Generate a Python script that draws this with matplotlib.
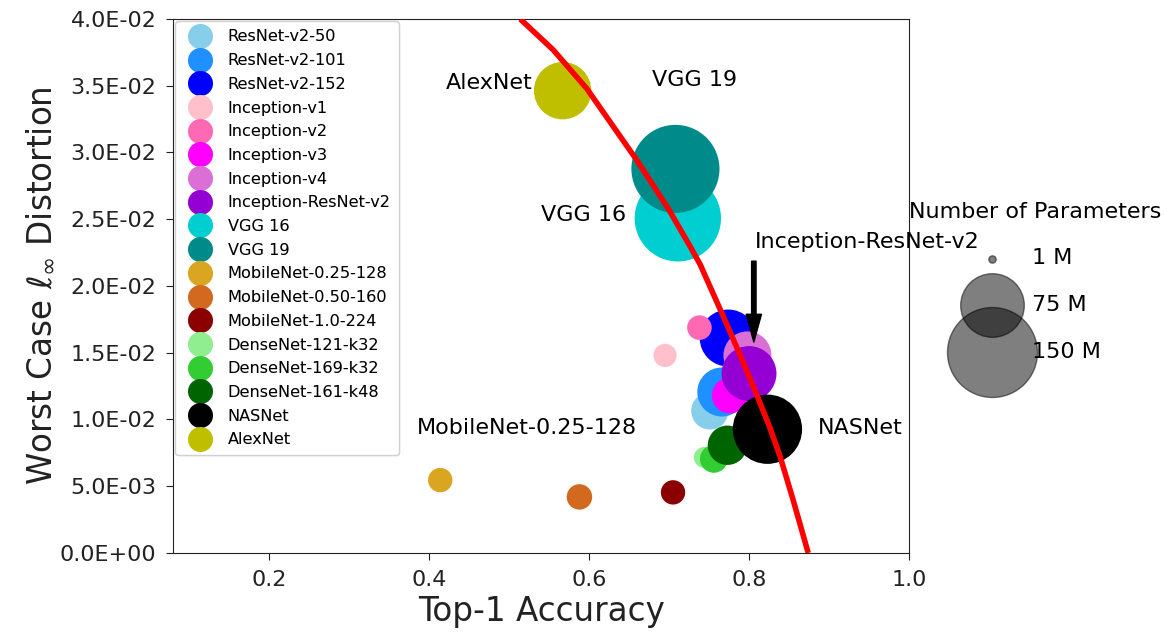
import matplotlib
matplotlib.use("Agg")
import matplotlib.pyplot as plt
from matplotlib.lines import Line2D
from matplotlib.ticker import FuncFormatter

# ---------------- data ----------------
models = ["ResNet-v2-50", "ResNet-v2-101", "ResNet-v2-152", "Inception-v1",
          "Inception-v2", "Inception-v3", "Inception-v4", "Inception-ResNet-v2",
          "VGG 16", "VGG 19", "MobileNet-0.25-128", "MobileNet-0.50-160",
          "MobileNet-1.0-224", "DenseNet-121-k32", "DenseNet-169-k32",
          "DenseNet-161-k48", "NASNet", "AlexNet"]
colors = ["skyblue", "dodgerblue", "blue", "pink", "hotpink", "magenta",
          "orchid", "darkviolet", "darkturquoise", "darkcyan", "goldenrod",
          "chocolate", "darkred", "lightgreen", "limegreen", "darkgreen",
          "black", "#bfbf00"]
accuracy = [0.751, 0.766, 0.774, 0.695, 0.738, 0.776, 0.798, 0.800,
            0.711, 0.708, 0.414, 0.588, 0.705, 0.744, 0.756, 0.773,
            0.823, 0.567]
distortion = [0.01064, 0.01206, 0.0161, 0.0148, 0.01688, 0.0118, 0.0148, 0.01344,
              0.02507, 0.02877, 0.00546, 0.0042, 0.00454, 0.00716, 0.00705, 0.00807,
              0.00927, 0.03463]
# number of parameters (millions) as shown by bubble area
params_m = [25.6, 44.5, 60.2, 10.0, 11.2, 23.8, 42.7, 55.8,
            138.0, 143.7, 11.0, 12.0, 11.0, 8.0, 14.3, 28.7,
            88.9, 61.0]

# red boundary curve
curve_acc = [0.514, 0.555, 0.597, 0.660, 0.700, 0.726, 0.739, 0.768, 0.789,
             0.810, 0.826, 0.839, 0.855, 0.874]
curve_dist = [0.0400, 0.0377, 0.0348, 0.0294, 0.0257, 0.0230, 0.0216, 0.0177,
              0.0148, 0.0118, 0.0094, 0.0072, 0.0040, 0.0]

size_legend_m = [1, 75, 150]
size_legend_labels = ["1 M", "75 M", "150 M"]

x_ticks = [0.2, 0.4, 0.6, 0.8, 1.0]
y_ticks = [0.0, 0.005, 0.01, 0.015, 0.02, 0.025, 0.03, 0.035, 0.04]

# ---------------- style ----------------
SIZE_SCALE = 28.0  # points^2 per million parameters

fig = plt.figure(figsize=(11.74, 6.33), dpi=100)
ax = fig.add_axes([0.1474, 0.1264, 0.6269, 0.8436])

for name, c, x, y, p in zip(models, colors, accuracy, distortion, params_m):
    ax.scatter([x], [y], s=p * SIZE_SCALE, color=c, edgecolors="none",
               label=name, zorder=2)

ax.plot(curve_acc, curve_dist, color="red", lw=4, zorder=3,
        solid_joinstyle="round", solid_capstyle="butt")

ax.set_xlim(0.08, 1.0)
ax.set_ylim(0.0, 0.04)
ax.set_xticks(x_ticks)
ax.set_yticks(y_ticks)
ax.xaxis.set_major_formatter(FuncFormatter(lambda v, _: f"{v:.1f}"))
ax.yaxis.set_major_formatter(FuncFormatter(lambda v, _: f"{v:.1E}"))
ax.tick_params(labelsize=16, length=5, colors="#222222")
ax.tick_params(axis="y", pad=7)
ax.tick_params(axis="x", pad=7)
for sp in ax.spines.values():
    sp.set_color("#222222")
ax.set_xlabel("Top-1 Accuracy", fontsize=23.5, labelpad=4, color="#222222")
ax.set_ylabel(r"Worst Case $\ell_\infty$ Distortion", fontsize=23.5, labelpad=2,
              color="#222222")

# model legend
handles = [Line2D([], [], marker="o", linestyle="none", markersize=18,
                  markerfacecolor=c, markeredgecolor="none") for c in colors]
leg1 = ax.legend(handles, models, loc="upper left", fontsize=11.6,
                 labelspacing=0.54, borderaxespad=0.15, borderpad=0.5,
                 handletextpad=0.75)
ax.add_artist(leg1)

# annotations
ax.text(0.53, 0.0352, "AlexNet", fontsize=16, ha="right", va="center")
ax.text(0.7325, 0.0354, "VGG 19", fontsize=16, ha="center", va="center")
ax.text(0.593, 0.0253, "VGG 16", fontsize=16, ha="center", va="center")
ax.text(0.8075, 0.0233, "Inception-ResNet-v2", fontsize=16, ha="left", va="center")
ax.text(0.522, 0.00935, "MobileNet-0.25-128", fontsize=16, ha="center", va="center")
ax.text(0.886, 0.00935, "NASNet", fontsize=16, ha="left", va="center")
ax.annotate("", xy=(0.806, 0.0158), xytext=(0.806, 0.02186),
            arrowprops=dict(facecolor="black", edgecolor="black", width=3.2,
                            headwidth=11, headlength=20, shrink=0.0), zorder=4)

# size legend
size_handles = [ax.scatter([], [], s=m * SIZE_SCALE, color="black", alpha=0.5,
                           edgecolors="black") for m in size_legend_m]
leg2 = fig.legend(size_handles, size_legend_labels, title="Number of Parameters",
                  loc="upper left", bbox_to_anchor=(0.757, 0.713), frameon=False,
                  fontsize=16, title_fontsize=16, labelspacing=1.2)

fig.savefig("out.png", dpi=100)
